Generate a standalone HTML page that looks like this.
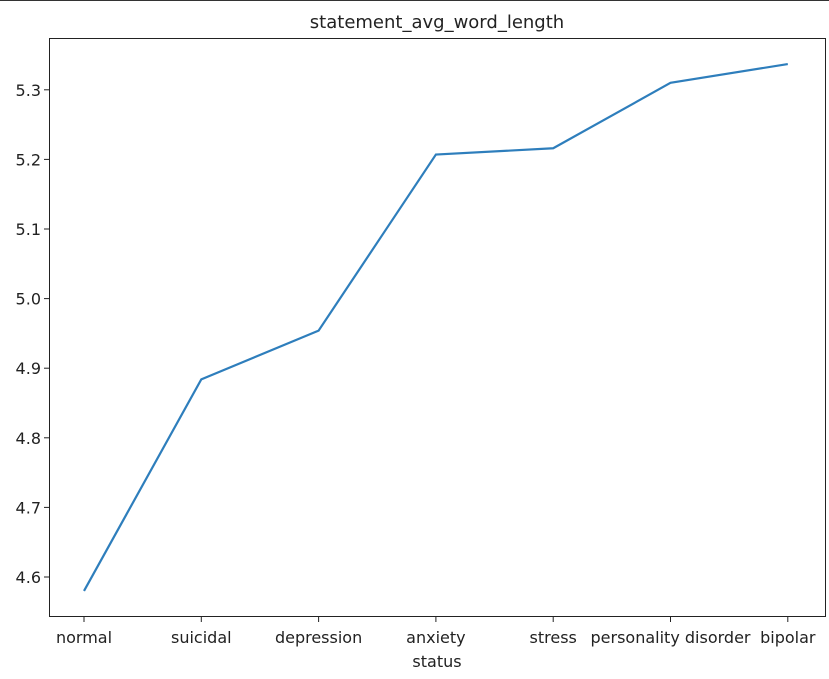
<!DOCTYPE html>
<html><head><meta charset="utf-8"><style>
body{margin:0;background:#fff;font-family:"DejaVu Sans","Liberation Sans",sans-serif}
text{font-family:"DejaVu Sans","Liberation Sans",sans-serif;fill:#222}
</style></head><body>
<svg id="chart" width="829" height="675" xmlns="http://www.w3.org/2000/svg">
<line x1="0" y1="0.5" x2="829" y2="0.5" stroke="#333"/>
<text x="437" y="28" font-size="18" text-anchor="middle">statement_avg_word_length</text>
<g id="plot"></g>
<rect x="49.5" y="38.5" width="776" height="578" fill="none" stroke="#222"/>
<text x="437" y="667" font-size="16" text-anchor="middle">status</text>
</svg>
<script>
const categories=["normal","suicidal","depression","anxiety","stress","personality disorder","bipolar"];
const values=[4.580,4.884,4.954,5.207,5.216,5.310,5.337];
const yTicks=[4.6,4.7,4.8,4.9,5.0,5.1,5.2,5.3];
const NS="http://www.w3.org/2000/svg";
const g=document.getElementById('plot');
function x(i){return 84+i*117.3;}
function y(v){return 577-(v-4.6)*696;}
function mk(t,a){const e=document.createElementNS(NS,t);for(const k in a)e.setAttribute(k,a[k]);return e;}
yTicks.forEach(v=>{
  const t=mk('line',{x1:44,x2:49,y1:y(v),y2:y(v),stroke:'#222'});
  
  
  g.appendChild(t);
  const l=mk('text',{x:41,y:y(v)+6,'font-size':16,'text-anchor':'end'});
  l.textContent=v.toFixed(1);
  
  
  g.appendChild(l);
});
categories.forEach((c,i)=>{
  const t=mk('line',{x1:x(i),x2:x(i),y1:617,y2:622,stroke:'#222'});
  
  
  g.appendChild(t);
  const l=mk('text',{x:x(i),y:643,'font-size':16,'text-anchor':'middle'});
  l.textContent=c;
  
  
  g.appendChild(l);
});
const p=mk('polyline',{points:values.map((v,i)=>x(i)+','+y(v)).join(' '),fill:'none',stroke:'#2e7ebc','stroke-width':2.2});


g.appendChild(p);
</script>
</body></html>
